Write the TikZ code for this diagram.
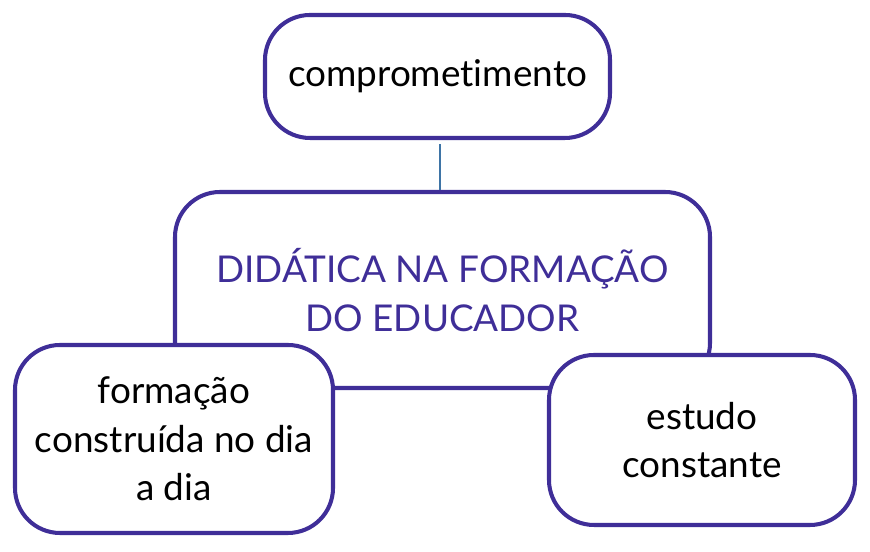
\documentclass[tikz,border=0pt]{standalone}
\usepackage{fontspec}
\setmainfont{Lato}[Ligatures=NoCommon]
\usetikzlibrary{positioning,backgrounds}
\definecolor{roxo}{HTML}{3F2E98}
\definecolor{azul}{HTML}{3E74A6}

\begin{document}
\begin{tikzpicture}[>=stealth,
	caixa/.style={draw=roxo, line width=2.3pt, rounded corners=0.9cm, fill=white,
		align=center, inner sep=0pt, font=\fontsize{21}{27.5}\selectfont}]
								\useasboundingbox (0,0) rectangle (17.4,11.04);

								\node[caixa, minimum width=10.7cm, minimum height=3.92cm,
									text=roxo] (n) at (8.85,5.24) {DIDÁTICA NA FORMAÇÃO\\DO EDUCADOR};

								\node[caixa, minimum width=6.9cm, minimum height=2.46cm] (nt) at (8.75,9.51) {comprometimento};

								\node[caixa, minimum width=6.36cm, minimum height=3.76cm] (nl) at (3.48,2.26) {formação\\construída no dia\\a dia};

								\node[caixa, minimum width=6.12cm, minimum height=3.4cm] (nr) at (14.04,2.24) {estudo\\constante};

								\draw[azul, line width=1.5pt]  (nt.south -| 8.8,0) ++(0,-0.08) coordinate (c0) -- (c0 |- n.north) ;

							\end{tikzpicture}
\end{document}
